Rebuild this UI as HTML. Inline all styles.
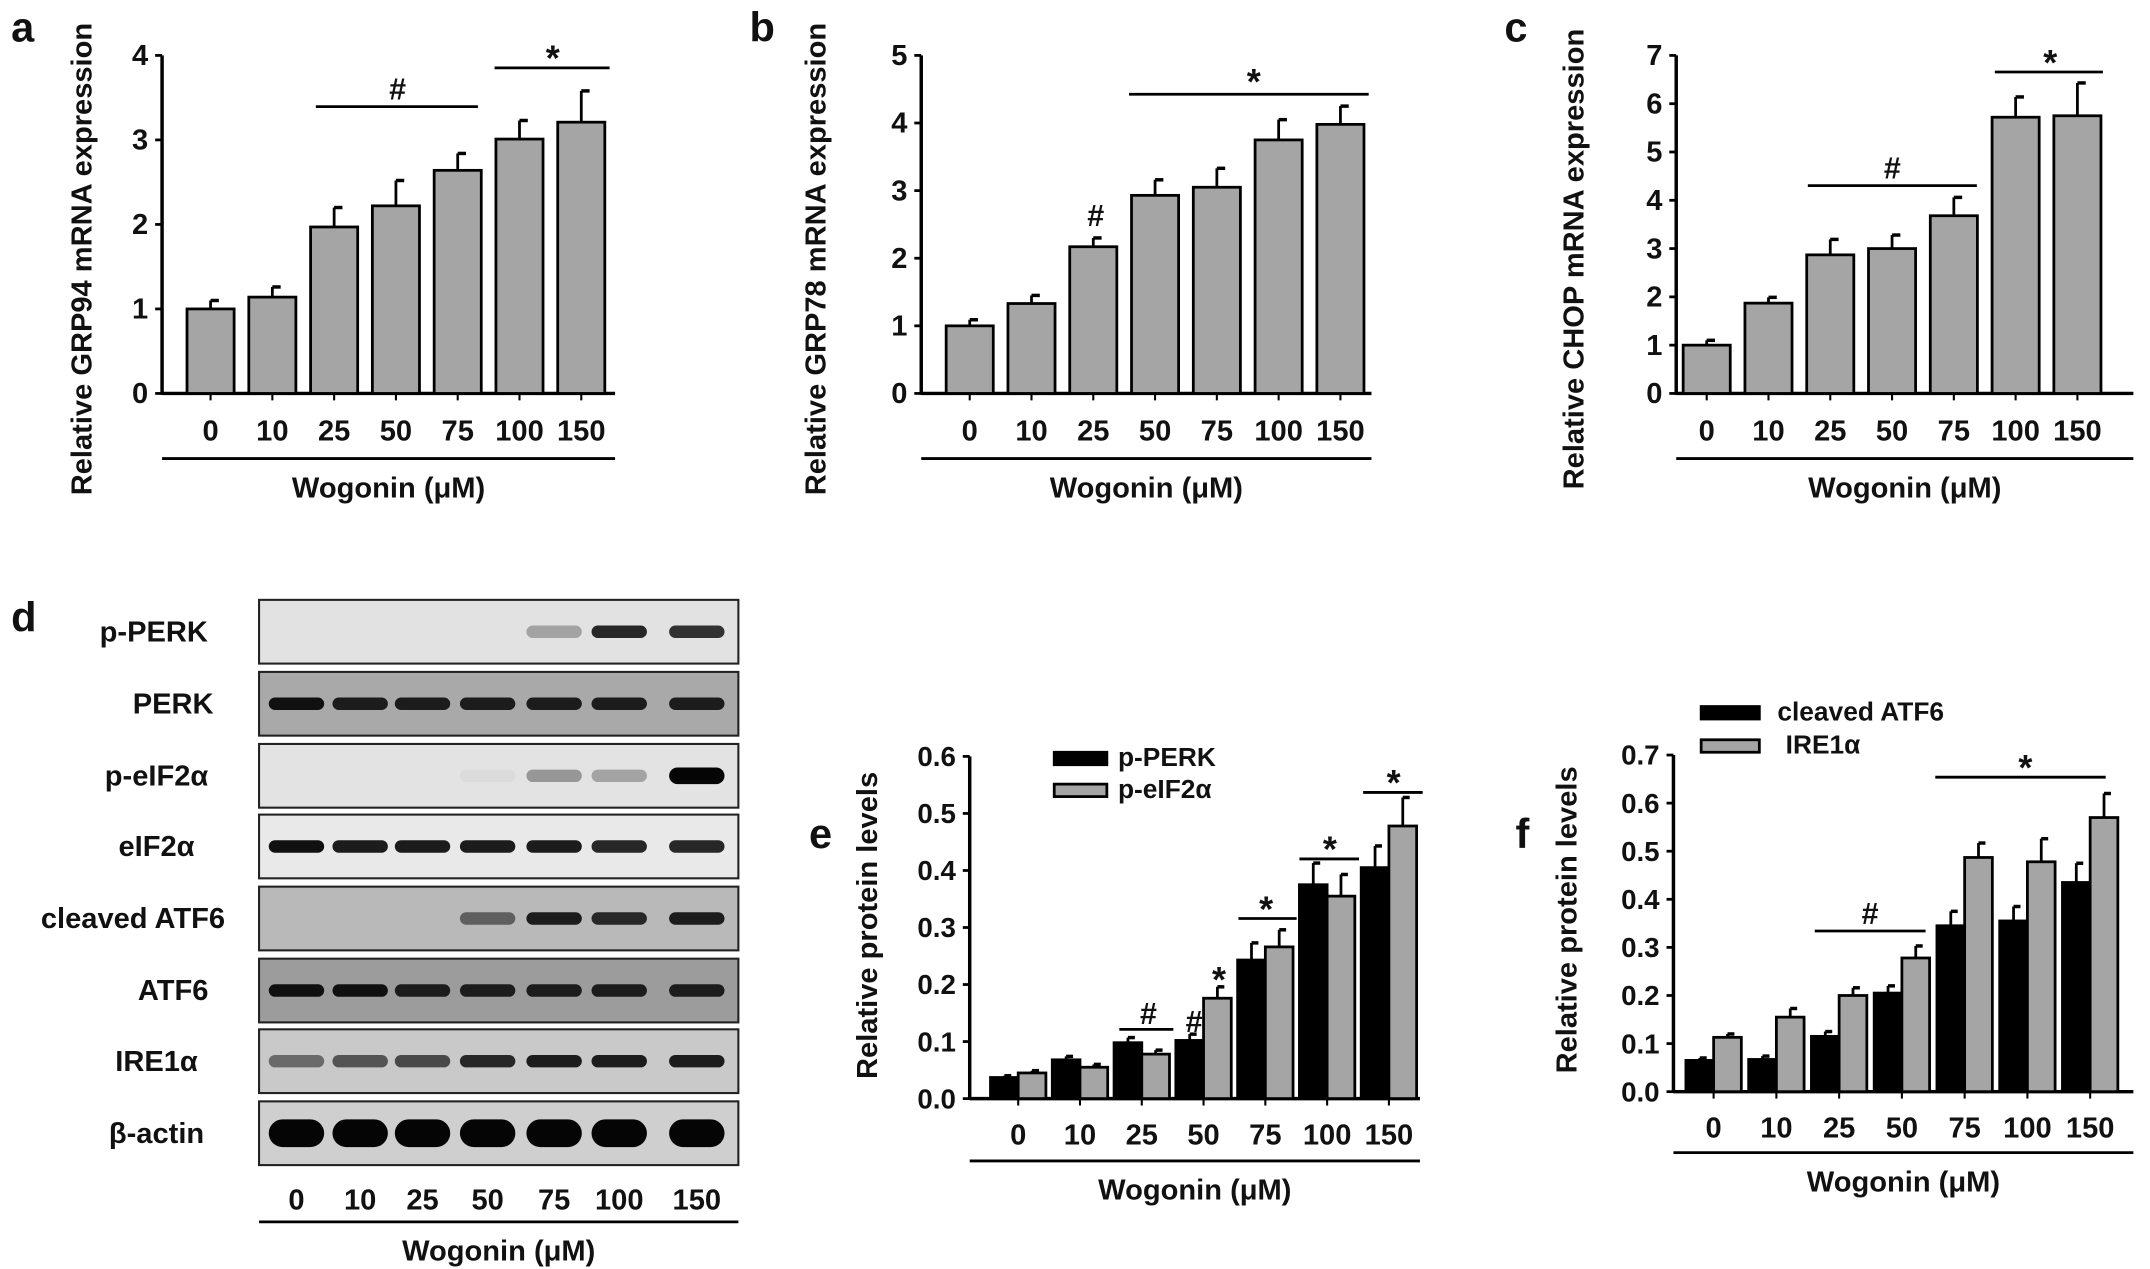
<!DOCTYPE html>
<html><head><meta charset="utf-8">
<style>
html,body{margin:0;padding:0;background:#fff;}
svg{display:block;}
text{font-family:"Liberation Sans",Arial,sans-serif;font-weight:bold;fill:#111;}
</style></head>
<body>
<svg id="fig" width="2150" height="1269" viewBox="0 0 1552 916" preserveAspectRatio="none" xmlns="http://www.w3.org/2000/svg">
<rect width="1552" height="916" fill="#fff"/>
<text x="8" y="30" font-size="30">a</text>
<text x="541" y="30" font-size="30">b</text>
<text x="1086" y="30" font-size="30">c</text>
<text x="8" y="456" font-size="30">d</text>
<text x="584" y="612" font-size="30">e</text>
<text x="1094" y="612" font-size="30">f</text>
<g id="charts"></g>
<g id="blot"></g>
</svg>
<script>
// ---- shared data ----
const doses = ["0","10","25","50","75","100","150"];
// panel a
const grp94Values = [1.0, 1.14, 1.97, 2.22, 2.64, 3.01, 3.21];
const grp94Errors = [0.10, 0.12, 0.23, 0.30, 0.20, 0.22, 0.37];
const aTicks = [0,1,2,3,4];
// panel b
const grp78Values = [1.0, 1.33, 2.17, 2.93, 3.05, 3.75, 3.98];
const grp78Errors = [0.09, 0.12, 0.13, 0.23, 0.28, 0.30, 0.27];
const bTicks = [0,1,2,3,4,5];
// panel c
const chopValues = [1.0, 1.87, 2.87, 3.0, 3.68, 5.72, 5.75];
const chopErrors = [0.10, 0.12, 0.32, 0.28, 0.38, 0.42, 0.68];
const cTicks = [0,1,2,3,4,5,6,7];
// panel e
const pPerkValues = [0.037, 0.068, 0.098, 0.102, 0.243, 0.375, 0.405];
const pPerkErrors = [0.003, 0.006, 0.009, 0.011, 0.030, 0.038, 0.038];
const pEif2Values = [0.045, 0.055, 0.078, 0.176, 0.266, 0.355, 0.478];
const pEif2Errors = [0.004, 0.005, 0.007, 0.020, 0.030, 0.038, 0.050];
const eTicks = ["0.0","0.1","0.2","0.3","0.4","0.5","0.6"];
// panel f
const atf6Values = [0.065, 0.067, 0.115, 0.205, 0.345, 0.355, 0.435];
const atf6Errors = [0.005, 0.007, 0.010, 0.015, 0.030, 0.030, 0.040];
const ire1Values = [0.113, 0.155, 0.200, 0.278, 0.487, 0.478, 0.570];
const ire1Errors = [0.007, 0.018, 0.016, 0.025, 0.030, 0.048, 0.050];
const fTicks = ["0.0","0.1","0.2","0.3","0.4","0.5","0.6","0.7"];
// blot lane band intensities (0..1)
const blotRows = ["p-PERK","PERK","p-eIF2α","eIF2α","cleaved ATF6","ATF6","IRE1α","β-actin"];
const blotBands = [
 [0,0,0,0,0.3,0.85,0.8],
 [0.95,0.9,0.9,0.9,0.9,0.9,0.9],
 [0,0,0,0.05,0.35,0.3,1],
 [0.95,0.9,0.9,0.9,0.9,0.85,0.85],
 [0,0,0,0.6,0.9,0.85,0.9],
 [0.95,0.95,0.9,0.9,0.9,0.9,0.9],
 [0.55,0.65,0.7,0.85,0.9,0.9,0.9],
 [1,1,1,1,1,1,1]
];

const NS="http://www.w3.org/2000/svg";
const root=document.getElementById('charts');
function el(tag,attrs,parent){const e=document.createElementNS(NS,tag);for(const k in attrs)e.setAttribute(k,attrs[k]);(parent||root).appendChild(e);return e;}
function txt(s,attrs,parent){const e=el('text',attrs,parent);e.textContent=s;return e;}

function chart(cfg){
  const g=el('g',{});
  
  
  const yS=v=>cfg.y0-(v-cfg.vmin)/(cfg.vmax-cfg.vmin)*(cfg.y0-cfg.y1);
  const ya=el('line',{x1:cfg.ax,y1:cfg.y1,x2:cfg.ax,y2:cfg.y0+1,stroke:'#000','stroke-width':2.5},g);
  
  
  cfg.ticks.forEach((t)=>{
    const v=parseFloat(t);
    const y=yS(v);
    el('line',{x1:cfg.ax-5,y1:y,x2:cfg.ax,y2:y,stroke:'#000','stroke-width':2},g);
    const tl=txt(String(t),{x:cfg.ax-10,y:y+7,'font-size':cfg.tickFs||21,'text-anchor':'end'},g);
    
    
  });
  const xa=el('line',{x1:cfg.ax,y1:cfg.y0,x2:cfg.axEnd,y2:cfg.y0,stroke:'#000','stroke-width':2.5},g);
  
  
  const xS=i=>cfg.xFirst+i*cfg.step;
  doses.forEach((d,i)=>{
    const x=xS(i);
    el('line',{x1:x,y1:cfg.y0,x2:x,y2:cfg.y0+5,stroke:'#000','stroke-width':1.5},g);
    const tl=txt(d,{x:x,y:cfg.labY,'font-size':21,'text-anchor':'middle'},g);
    
    
  });
  cfg.series.forEach((s)=>{
    s.values.forEach((v,i)=>{
      const cx=xS(i)+s.off;
      const x=cx-cfg.bw/2, y=yS(v);
      const eTop=yS(v+s.errs[i]);
      el('line',{x1:cx,y1:y,x2:cx,y2:eTop,stroke:'#000','stroke-width':2},g);
      el('line',{x1:cx,y1:eTop,x2:cx+cfg.cap,y2:eTop,stroke:'#000','stroke-width':2.5},g);
      const r=el('rect',{x:x,y:y,width:cfg.bw,height:cfg.y0-y,fill:s.fill,stroke:'#000','stroke-width':2},g);
      
      
    });
  });
  el('line',{x1:cfg.ax,y1:cfg.ulY,x2:cfg.axEnd,y2:cfg.ulY,stroke:'#000','stroke-width':2},g);
  const xt=txt('Wogonin (μM)',{x:(cfg.ax+cfg.axEnd)/2,y:cfg.ulY+28,'font-size':21,'text-anchor':'middle'},g);
  
  
  const ytt=txt(cfg.ytitle,{x:0,y:0,'font-size':21,'text-anchor':'middle',transform:`translate(${cfg.ytx},${cfg.yty}) rotate(-90)`},g);
  
  
  (cfg.marks||[]).forEach(m=>{
    if(m.x1!==undefined) el('line',{x1:m.x1,y1:m.y,x2:m.x2,y2:m.y,stroke:'#000','stroke-width':2},g);
    const mt=txt(m.s,{x:m.tx,y:m.ty,'font-size':m.s==='*'?26:22,'text-anchor':'middle'},g);
    
    
  });
  (cfg.legend||[]).forEach(L=>{
    const r=el('rect',{x:L.x,y:L.y,width:L.w,height:9,fill:L.fill,stroke:'#000','stroke-width':2},g);
    
    
    const t=txt(L.s,{x:L.tx,y:L.y+10,'font-size':19},g);
    
    
  });
}
const GRAY='#a5a5a5';
chart({name:'chart-grp94',ax:117,axEnd:444,y0:284,y1:40,vmin:0,vmax:4,ticks:aTicks,xFirst:152,step:44.6,bw:34,cap:6,labY:318,ulY:331,
  ytitle:'Relative GRP94 mRNA expression',ytx:66,yty:187,
  series:[{key:'grp94',values:grp94Values,errs:grp94Errors,fill:GRAY,off:0}],
  marks:[{x1:228,x2:345,y:77,s:'#',tx:287,ty:72},{x1:357,x2:440,y:49,s:'*',tx:399,ty:51}]});
chart({name:'chart-grp78',ax:665,axEnd:990,y0:284,y1:40,vmin:0,vmax:5,ticks:bTicks,xFirst:700,step:44.6,bw:34,cap:6,labY:318,ulY:331,
  ytitle:'Relative GRP78 mRNA expression',ytx:596,yty:187,
  series:[{key:'grp78',values:grp78Values,errs:grp78Errors,fill:GRAY,off:0}],
  marks:[{s:'#',tx:791,ty:163},{x1:815,x2:988,y:68,s:'*',tx:905,ty:68}]});
chart({name:'chart-chop',ax:1210,axEnd:1540,y0:284,y1:40,vmin:0,vmax:7,ticks:cTicks,xFirst:1232,step:44.6,bw:34,cap:6,labY:318,ulY:331,
  ytitle:'Relative CHOP mRNA expression',ytx:1143,yty:187,
  series:[{key:'chop',values:chopValues,errs:chopErrors,fill:GRAY,off:0}],
  marks:[{x1:1305,x2:1427,y:134,s:'#',tx:1366,ty:129},{x1:1440,x2:1518,y:52,s:'*',tx:1480,ty:54}]});
chart({name:'chart-perk-eif2',ax:700,axEnd:1025,y0:793,y1:546,vmin:0,vmax:0.6,ticks:eTicks,xFirst:735,step:44.6,bw:20,cap:5,labY:826,ulY:838,tickFs:20,
  ytitle:'Relative protein levels',ytx:633,yty:668,
  series:[{key:'p-perk',values:pPerkValues,errs:pPerkErrors,fill:'#000',off:-10},{key:'p-eif2a',values:pEif2Values,errs:pEif2Errors,fill:GRAY,off:10}],
  marks:[{x1:808,x2:847,y:743,s:'#',tx:829,ty:739},{s:'#',tx:862,ty:745},{s:'*',tx:880,ty:716},
         {x1:894,x2:936,y:663,s:'*',tx:914,ty:665},{x1:938,x2:981,y:620,s:'*',tx:960,ty:622},{x1:984,x2:1027,y:572,s:'*',tx:1006,ty:574}],
  legend:[{x:761,y:543,w:38,fill:'#000',s:'p-PERK',tx:807},{x:761,y:566,w:38,fill:GRAY,s:'p-eIF2α',tx:807}]});
chart({name:'chart-atf6-ire1',ax:1208,axEnd:1540,y0:788,y1:545,vmin:0,vmax:0.7,ticks:fTicks,xFirst:1237,step:45.3,bw:20,cap:5,labY:821,ulY:832,tickFs:20,
  ytitle:'Relative protein levels',ytx:1138,yty:664,
  series:[{key:'cleaved-atf6',values:atf6Values,errs:atf6Errors,fill:'#000',off:-10},{key:'ire1a',values:ire1Values,errs:ire1Errors,fill:GRAY,off:10}],
  marks:[{x1:1310,x2:1390,y:672,s:'#',tx:1350,ty:667},{x1:1397,x2:1520,y:561,s:'*',tx:1462,ty:563}],
  legend:[{x:1228,y:510,w:42,fill:'#000',s:'cleaved ATF6',tx:1283},{x:1228,y:534,w:42,fill:GRAY,s:'IRE1α',tx:1289}]});

// ---- blot panel d ----
const blot=document.getElementById('blot');
const rowTops=[433,485,537,588,640,692,743,795];
const rowBg=['#e2e2e2','#a9a9a9','#e3e3e3','#e9e9e9','#b9b9b9','#9c9c9c','#c9c9c9','#cfcfcf'];
const labelCx=[111,125,113,113,96,125,113,113];
const laneX=[214,260,305,352,400,447,503];
blotRows.forEach((name,r)=>{
  const y=rowTops[r], h=46;
  const bg=el('rect',{x:187,y:y,width:346,height:h,fill:rowBg[r],stroke:'#222','stroke-width':1.5},blot);
  
  
  const lab=txt(name,{x:labelCx[r],y:y+30,'font-size':21,'text-anchor':'middle'},blot);
  
  
  blotBands[r].forEach((v,i)=>{
    if(v<=0)return;
    const bh=r===7?20:(r===2&&i===6?12:9);
    const gv=Math.round(230-v*225);
    const b=el('rect',{x:laneX[i]-20,y:y+h/2-bh/2,width:40,height:bh,rx:bh/2,fill:`rgb(${gv},${gv},${gv})`},blot);
    
    
  });
});
doses.forEach((d,i)=>{
  const t=txt(d,{x:laneX[i],y:873,'font-size':21,'text-anchor':'middle'},blot);
  
  
});
el('line',{x1:187,y1:882,x2:533,y2:882,stroke:'#000','stroke-width':2},blot);
const wt=txt('Wogonin (μM)',{x:360,y:910,'font-size':21,'text-anchor':'middle'},blot);


</script>
</body></html>
